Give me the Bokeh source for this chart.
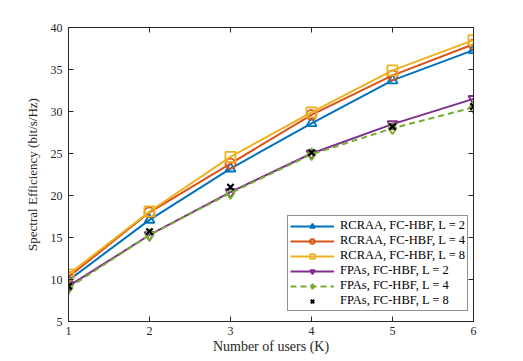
from bokeh.plotting import figure
from bokeh.models import LinearAxis, FixedTicker, Range1d
from bokeh.embed import file_html
from bokeh.resources import INLINE

K = [1, 2, 3, 4, 5, 6]
rcraa_L2 = [9.9, 17.1, 23.2, 28.6, 33.7, 37.3]
rcraa_L4 = [10.3, 18.0, 23.8, 29.6, 34.3, 38.0]
rcraa_L8 = [10.6, 18.1, 24.6, 29.9, 34.9, 38.5]
fpa_L2 = [9.2, 15.3, 20.4, 25.0, 28.5, 31.5]
fpa_L4 = [9.0, 15.3, 20.3, 24.9, 28.0, 30.5]
fpa_L8 = [9.2, 15.7, 21.0, 25.1, 28.2, 30.6]

x_ticks = [1, 2, 3, 4, 5, 6]
y_ticks = [5, 10, 15, 20, 25, 30, 35, 40]

FONT = "Liberation Serif"
AX = "#262626"

p = figure(width=507, height=356, output_backend="svg", toolbar_location=None,
           x_range=Range1d(1, 6), y_range=Range1d(5, 40),
           min_border_left=68, min_border_top=27, min_border_right=34, min_border_bottom=35)
p.xgrid.visible = False
p.ygrid.visible = False
p.outline_line_color = AX
p.background_fill_color = "white"

def style_axis(ax, ticks, show_labels=True):
    ax.ticker = FixedTicker(ticks=ticks)
    ax.major_tick_in = 5
    ax.major_tick_out = 0
    ax.minor_tick_line_color = None
    ax.axis_line_color = AX
    ax.major_tick_line_color = AX
    ax.major_label_text_font = FONT
    ax.major_label_text_color = AX
    ax.major_label_text_font_size = "12px"
    ax.axis_label_text_font = FONT
    ax.axis_label_text_font_style = "normal"
    ax.axis_label_text_color = AX
    if not show_labels:
        ax.major_label_overrides = {t: "" for t in ticks}
        ax.major_label_standoff = 0

style_axis(p.xaxis[0], x_ticks)
style_axis(p.yaxis[0], y_ticks)
p.xaxis[0].axis_label = "Number of users (K)"
p.xaxis[0].axis_label_text_font_size = "14px"
p.xaxis[0].major_label_standoff = 5
p.xaxis[0].axis_label_standoff = 1
p.yaxis[0].axis_label = "Spectral Efficiency (bit/s/Hz)"
p.yaxis[0].axis_label_text_font_size = "13px"
p.yaxis[0].major_label_standoff = 6
p.yaxis[0].axis_label_standoff = 8

top = LinearAxis()
style_axis(top, x_ticks, False)
p.add_layout(top, "above")
right = LinearAxis()
style_axis(right, y_ticks, False)
p.add_layout(right, "right")

series = [
    (rcraa_L2, "#0072BD", "triangle", "solid", "RCRAA, FC-HBF, L = 2"),
    (rcraa_L4, "#D95319", "circle", "solid", "RCRAA, FC-HBF, L = 4"),
    (rcraa_L8, "#EDB120", "square", "solid", "RCRAA, FC-HBF, L = 8"),
    (fpa_L2, "#7E2F8E", "inverted_triangle", "solid", "FPAs, FC-HBF, L = 2"),
    (fpa_L4, "#77AC30", "diamond", "6 4", "FPAs, FC-HBF, L = 4"),
]
for ys, col, mk, dash, lab in series:
    p.line(K, ys, line_color=col, line_width=2, line_dash=dash, legend_label=lab)
    p.scatter(K, ys, marker=mk, size=10 if mk != "diamond" else 12, line_color=col,
              line_width=1.8, fill_color="white", fill_alpha=0, legend_label=lab)
p.scatter(K, fpa_L8, marker="x", size=9, line_color="black", line_width=2.2,
          legend_label="FPAs, FC-HBF, L = 8")

lg = p.legend[0]
lg.location = (219, 10)
lg.margin = 0
lg.padding = 2
lg.spacing = 0
lg.label_text_font = FONT
lg.label_text_font_size = "12.5px"
lg.label_text_color = "black"
lg.glyph_width = 44
lg.glyph_height = 12
lg.label_height = 12
lg.label_standoff = 6
lg.border_line_color = "#262626"
lg.border_line_width = 1
lg.background_fill_alpha = 1

open("out.html", "w").write(file_html(p, INLINE))
